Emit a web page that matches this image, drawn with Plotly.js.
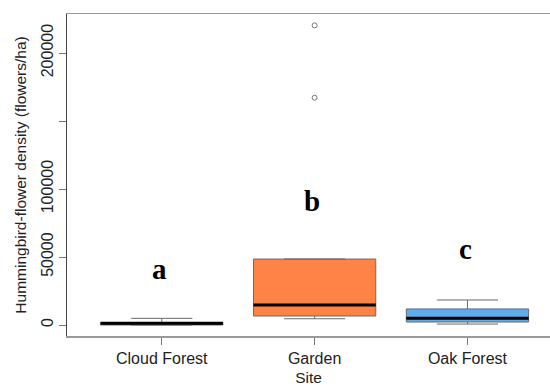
<!DOCTYPE html>
<html>
<head>
<meta charset="utf-8">
<script src="https://cdn.plot.ly/plotly-3.0.1.min.js"></script>
<style>html,body{margin:0;padding:0;background:#fff;}#chart{width:550px;height:386px;}</style>
</head>
<body>
<div id="chart"></div>
<script>
// Data
const sites = ["Cloud Forest", "Garden", "Oak Forest"];
const sitePos = [1, 2, 3];
const q1 = [0, 6600, 2200];
const median = [1200, 14700, 4900];
const q3 = [1800, 48500, 11800];
const lowerFence = [0, 4600, 700];
const upperFence = [4900, 48500, 18400];
const fillColors = ["#222222", "#FF8247", "#5CACEE"];
const outlierSite = [2, 2];
const outlierValues = [220300, 167100];
const letters = ["a", "b", "c"];
const letterY = [41500, 91000, 56000];
const yTicks = [0, 50000, 100000, 150000, 200000];
const yTickText = ["0", "50000", "100000", "", "200000"];

const boxHalf = 0.4;
const traces = [];
for (let i = 0; i < sites.length; i++) {
  traces.push({
    type: "box",
    x: [sitePos[i]],
    q1: [q1[i]], median: [median[i]], q3: [q3[i]],
    lowerfence: [lowerFence[i]], upperfence: [upperFence[i]],
    width: boxHalf * 2,
    whiskerwidth: 0.5,
    fillcolor: fillColors[i],
    line: {color: "#6a6a6a", width: 1},
    boxpoints: false,
    hoverinfo: "skip",
    showlegend: false
  });
  // thick median line
  traces.push({
    type: "scatter", mode: "lines",
    x: [sitePos[i] - boxHalf, sitePos[i] + boxHalf],
    y: [median[i], median[i]],
    line: {color: "#000", width: 3},
    hoverinfo: "skip", showlegend: false
  });
}
traces.push({
  type: "scatter", mode: "markers",
  x: outlierSite, y: outlierValues,
  marker: {symbol: "circle-open", size: 5, color: "#777", line: {width: 1}},
  hoverinfo: "skip", showlegend: false
});

const annotations = letters.map((t, i) => ({
  x: sitePos[i] - 0.015, y: letterY[i], xref: "x", yref: "y",
  text: t, showarrow: false, xanchor: "center", yanchor: "middle",
  font: {family: "Liberation Serif, Times New Roman, serif", size: 29, color: "#000", weight: "bold"}
}));

const layout = {
  width: 550, height: 386,
  margin: {l: 67, r: 0, t: 14, b: 50, pad: 0},
  paper_bgcolor: "#fff", plot_bgcolor: "#fff",
  font: {family: "Liberation Sans, Arial, sans-serif", color: "#222"},
  xaxis: {
    range: [0.38, 3.54],
    tickvals: sitePos, ticktext: sites,
    showgrid: false, zeroline: false,
    showline: true, linecolor: "#999", linewidth: 1.5, mirror: true,
    ticks: "outside", ticklen: 7, tickcolor: "#777", tickwidth: 1,
    tickfont: {size: 16, color: "#222"},
    title: {text: "Site", font: {size: 15.5, color: "#222"}, standoff: 6}
  },
  yaxis: {
    range: [-8088, 228676],
    tickvals: yTicks, ticktext: yTickText,
    tickangle: -90,
    showgrid: false, zeroline: false,
    showline: true, linecolor: "#444", linewidth: 1,
    ticks: "outside", ticklen: 7, tickcolor: "#777", tickwidth: 1,
    tickfont: {size: 16, color: "#222"},
    title: {text: "Hummingbird-flower density (flowers/ha)", font: {size: 15.5, color: "#222"}, standoff: 8}
  },
  annotations: annotations
};

Plotly.newPlot("chart", traces, layout, {staticPlot: true, displayModeBar: false});
</script>
</body>
</html>
